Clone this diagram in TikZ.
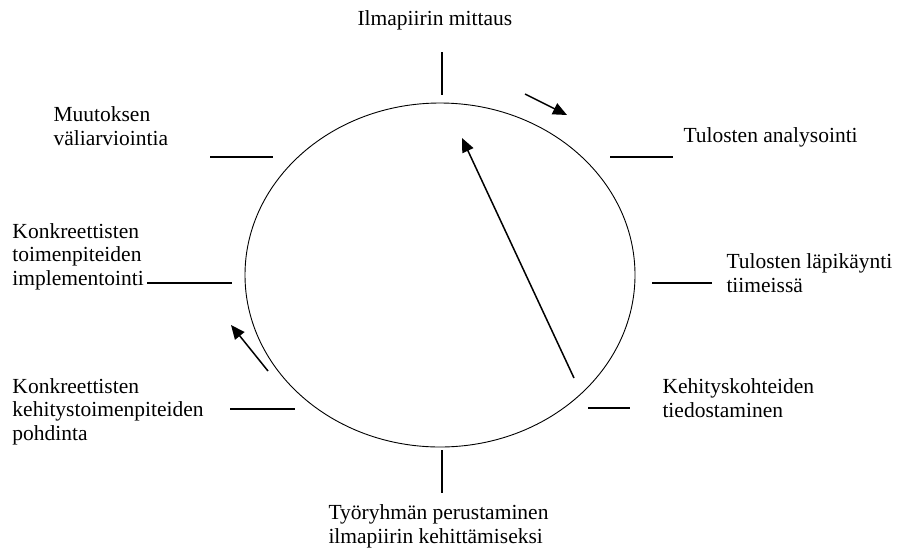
\documentclass[tikz,border=0pt]{standalone}
\usepackage{fontspec}
\setmainfont{Liberation Serif}
\usetikzlibrary{shapes.geometric,arrows.meta}

\begin{document}
\begin{tikzpicture}[x=1pt, y=-1pt, line width=1pt,
    lbl/.style={anchor=base west, align=left, inner sep=0pt, font=\fontsize{21.5}{23.5}\selectfont},
    tick/.style={line width=1.1pt},
    flow/.style={line width=1.5pt, -{Triangle[length=14pt,width=12pt]}}]

    \useasboundingbox (0,0) rectangle (899,550);

    \node[draw, ellipse, line width=0.9pt, minimum width=390pt, minimum height=344pt, inner sep=0pt] (kierto) at (440,275) {};

    % labels, placed by the baseline of their last line
    \node[lbl] (mittaus) at (357,25) {Ilmapiirin mittaus};
    \node[lbl] (analyysi) at (683,142) {Tulosten analysointi};
    \node[lbl] (lapikaynti) at (726,292) {Tulosten läpikäynti\\tiimeissä};
    \node[lbl] (kohteet) at (662,417) {Kehityskohteiden\\tiedostaminen};
    \node[lbl] (tyoryhma) at (328,543) {Työryhmän perustaminen\\ilmapiirin kehittämiseksi};
    \node[lbl] (pohdinta) at (12,440) {Konkreettisten\\kehitystoimenpiteiden\\pohdinta};
    \node[lbl] (implement) at (12,285) {Konkreettisten\\toimenpiteiden\\implementointi};
    \node[lbl] (valiarvio) at (53,145) {Muutoksen\\väliarviointia};

    % spokes round the cycle
    \draw[tick] (442,52) -- (442,95);
    \draw[tick] (610,157) -- (673,157);
    \draw[tick] (652,283) -- (712,283);
    \draw[tick] (588,408) -- (630,408);
    \draw[tick] (442,450) -- (442,493);
    \draw[tick] (230,409) -- (295,409);
    \draw[tick] (147,283) -- (232,283);
    \draw[tick] (210,157) -- (273,157);

    % direction arrows
    \coordinate (s1) at (525,94);  \coordinate (e1) at (567,115);
    \coordinate (s2) at (574,378); \coordinate (e2) at (462,138);
    \coordinate (s3) at (268,371); \coordinate (e3) at (231,325);
    \draw[flow] (s1) -- (e1);
    \draw[flow] (s2) -- (e2);
    \draw[flow] (s3) -- (e3);

\end{tikzpicture}
\end{document}
